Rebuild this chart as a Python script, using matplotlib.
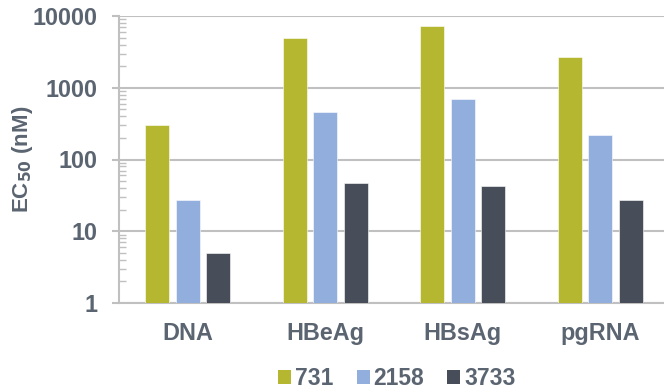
import matplotlib
matplotlib.use("Agg")
import matplotlib.pyplot as plt
import numpy as np
from matplotlib.ticker import LogLocator, FixedLocator, NullFormatter
from matplotlib.patches import Patch

categories = ["DNA", "HBeAg", "HBsAg", "pgRNA"]
series_names = ["731", "2158", "3733"]
values_731 = [300, 4900, 7250, 2650]
values_2158 = [27, 460, 705, 222]
values_3733 = [4.9, 47, 43, 27]
colors = ["#b5b731", "#92aedd", "#474e59"]
y_ticks = [1, 10, 100, 1000, 10000]
y_tick_labels = ["1", "10", "100", "1000", "10000"]

text_color = "#5b6571"
grid_color = "#c0c0c0"

plt.rcParams["font.family"] = ["Liberation Sans", "DejaVu Sans"]
plt.rcParams["font.weight"] = "bold"

W, H = 664, 390
ax_left, ax_right, ax_top, ax_bottom = 119, 669, 16, 303
fig = plt.figure(figsize=(W / 100, H / 100), dpi=100)
ax = fig.add_axes([ax_left / W, 1 - ax_bottom / H,
                   (ax_right - ax_left) / W, (ax_bottom - ax_top) / H])

x = np.arange(len(categories))
width = 0.175
step = 0.222
series = [values_731, values_2158, values_3733]
for i, (vals, c) in enumerate(zip(series, colors)):
    ax.bar(x + (i - 1) * step, vals, width=width, color=c, bottom=0,
           edgecolor="white", linewidth=0.4, zorder=3)

ax.set_yscale("log")
ax.set_ylim(1, 10000)
ax.set_xlim(-0.5, len(categories) - 0.5)

ax.yaxis.set_major_locator(FixedLocator(y_ticks))
ax.set_yticklabels(y_tick_labels)
ax.yaxis.set_minor_locator(LogLocator(base=10, subs=np.arange(2, 10)))
ax.yaxis.set_minor_formatter(NullFormatter())
ax.tick_params(axis="y", which="major", length=5, width=1.5, color=grid_color,
               labelsize=16.8, labelcolor=text_color, pad=10.5, direction="out")
ax.tick_params(axis="y", which="minor", length=5, width=1.0, color=grid_color,
               direction="in")

ax.set_xticks(x)
ax.set_xticklabels(categories)
ax.tick_params(axis="x", length=0, labelsize=16.8, labelcolor=text_color, pad=14)

ax.grid(axis="y", which="major", color=grid_color, linewidth=1.5, zorder=0)
for side in ["top", "right"]:
    ax.spines[side].set_visible(False)
for side in ["left", "bottom"]:
    ax.spines[side].set_color(grid_color)
    ax.spines[side].set_linewidth(1.5)

ax.set_ylabel("EC$_{\\mathbf{50}}$ (nM)", fontsize=16, color=text_color,
              fontweight="bold")
ax.yaxis.set_label_coords((35 - ax_left) / (ax_right - ax_left), 0.5)

handles = [Patch(facecolor=c, edgecolor="none") for c in colors]
fig.legend(handles, series_names, loc="center", bbox_to_anchor=(397 / W, 1 - 378.5 / H),
           ncol=3, frameon=False, fontsize=16.5, labelcolor=text_color,
           handlelength=0.57, handleheight=0.57, handletextpad=0.17, columnspacing=1.0)

fig.savefig("out.png", dpi=100)
